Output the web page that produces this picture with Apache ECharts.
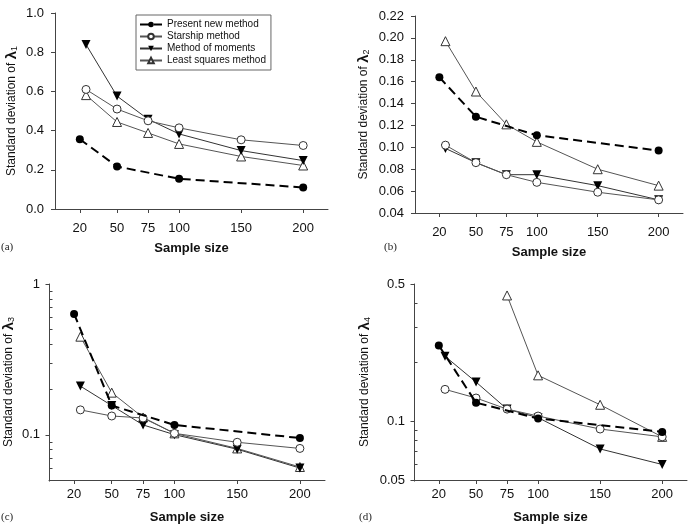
<!DOCTYPE html>
<html>
<head>
<meta charset="utf-8">
<script src="https://cdn.jsdelivr.net/npm/echarts@6/dist/echarts.min.js"></script>
<style>
  html, body { margin: 0; padding: 0; background: #fff; }
  #chart { width: 688px; height: 525px; }
</style>
</head>
<body>
<div id="chart"></div>
<script>
var chart = echarts.init(document.getElementById('chart'));

// sample sizes
var xPresent = [20, 50, 100, 200];
var xOthers = [25, 50, 75, 100, 150, 200];
var xLeastD = [75, 100, 150, 200];
var xTicks = [20, 50, 75, 100, 150, 200];

var seriesNames = ['Present new method', 'Starship method', 'Method of moments', 'Least squares method'];

// (a) lambda 1
var presentA = [0.356, 0.217, 0.154, 0.110];
var starshipA = [0.610, 0.510, 0.450, 0.414, 0.353, 0.324];
var momentsA = [0.839, 0.576, 0.458, 0.383, 0.298, 0.247];
var leastA = [0.581, 0.444, 0.388, 0.332, 0.268, 0.222];

// (b) lambda 2
var presentB = [0.164, 0.128, 0.111, 0.097];
var starshipB = [0.102, 0.086, 0.075, 0.068, 0.059, 0.052];
var momentsB = [0.099, 0.086, 0.075, 0.075, 0.065, 0.052];
var leastB = [0.197, 0.151, 0.121, 0.105, 0.080, 0.065];

// (c) lambda 3 (log)
var presentC = [0.633, 0.156, 0.116, 0.095];
var starshipC = [0.146, 0.133, 0.129, 0.102, 0.089, 0.081];
var momentsC = [0.210, 0.156, 0.116, 0.100, 0.080, 0.060];
var leastC = [0.447, 0.190, 0.130, 0.102, 0.081, 0.061];

// (d) lambda 4 (log)
var presentD = [0.243, 0.124, 0.103, 0.088];
var starshipD = [0.145, 0.131, 0.115, 0.106, 0.091, 0.083];
var momentsD = [0.214, 0.158, 0.115, 0.104, 0.072, 0.060];
var leastD = [0.437, 0.171, 0.121, 0.083];

var majorC = [0.1, 1];
var minorC = [0.06, 0.07, 0.08, 0.09, 0.2, 0.3, 0.4, 0.5, 0.6, 0.7, 0.8, 0.9];
var majorD = [0.05, 0.1, 0.5];
var minorD = [0.06, 0.07, 0.08, 0.09, 0.2, 0.3, 0.4];

var font = "'Liberation Sans', Arial, sans-serif";
var axisColor = '#444';

function pairs(xs, ys) {
    return xs.map(function (x, i) { return [x, ys[i]]; });
}

var styles = [
    { symbol: 'circle', symbolSize: 8, symbolRotate: 0,
      itemStyle: { color: '#000' },
      lineStyle: { color: '#000', width: 2, type: [9, 5] } },
    { symbol: 'circle', symbolSize: 8, symbolRotate: 0,
      itemStyle: { color: '#fff', borderColor: '#333', borderWidth: 1 },
      lineStyle: { color: '#555', width: 1 } },
    { symbol: 'triangle', symbolSize: 9, symbolRotate: 180,
      itemStyle: { color: '#000' },
      lineStyle: { color: '#333', width: 1 } },
    { symbol: 'triangle', symbolSize: 9, symbolRotate: 0,
      itemStyle: { color: '#fff', borderColor: '#333', borderWidth: 1 },
      lineStyle: { color: '#555', width: 1 } }
];

function mk(k, xs, ys, idx) {
    var s = styles[k];
    return {
        type: 'line',
        name: seriesNames[k],
        xAxisIndex: idx,
        yAxisIndex: idx,
        data: pairs(xs, ys),
        symbol: s.symbol,
        symbolSize: s.symbolSize,
        symbolRotate: s.symbolRotate,
        itemStyle: s.itemStyle,
        lineStyle: s.lineStyle,
        z: 5 - k
    };
}

function xAxisOf(idx, margin, gap) {
    return {
        type: 'value',
        gridIndex: idx,
        min: 0,
        max: 220,
        name: 'Sample size',
        nameLocation: 'middle',
        nameGap: gap,
        nameTextStyle: { fontFamily: font, fontSize: 13, fontWeight: 'bold', color: '#111' },
        splitLine: { show: false },
        axisLine: { onZero: false, lineStyle: { color: axisColor, width: 1 } },
        axisTick: { length: 4, customValues: xTicks, lineStyle: { color: axisColor } },
        axisLabel: { customValues: xTicks, fontFamily: font, fontSize: 13, color: '#111', margin: margin }
    };
}

function yName(sub) {
    return '{a|Standard deviation of }{l|λ}{s|' + sub + '}';
}

var nameRich = {
    a: { fontFamily: font, fontSize: 12, color: '#111' },
    l: { fontFamily: font, fontSize: 15, color: '#111', fontWeight: 'bold' },
    s: { fontFamily: font, fontSize: 9, color: '#111', verticalAlign: 'bottom', padding: [6, 0, 0, 0] }
};

function fmt(v) {
    return String(parseFloat(Number(v).toPrecision(3)));
}

// only the listed major values get a label
function logLabels(list) {
    return function (v) {
        for (var i = 0; i < list.length; i++) {
            if (Math.abs(v - list[i]) < list[i] * 1e-3) { return fmt(list[i]); }
        }
        return '';
    };
}

function logAxis(grid, min, max, sub, gap, major) {
    return {
        type: 'log', logBase: 10, gridIndex: grid, min: min, max: max,
        name: yName(sub), nameLocation: 'middle', nameRotate: 90, nameGap: gap,
        nameTextStyle: { rich: nameRich },
        splitLine: { show: false },
        axisLine: { show: true, onZero: false, lineStyle: { color: axisColor } },
        axisTick: { show: false },
        axisLabel: { fontFamily: font, fontSize: 13, color: '#111', margin: 9,
            formatter: logLabels(major) }
    };
}

var yAxes = [
    {
        type: 'value', gridIndex: 0, min: 0, max: 1, interval: 0.2,
        name: yName('1'), nameLocation: 'middle', nameRotate: 90, nameGap: 36,
        nameTextStyle: { rich: nameRich },
        splitLine: { show: false },
        axisLine: { show: true, onZero: false, lineStyle: { color: axisColor } },
        axisTick: { show: true, length: 4, lineStyle: { color: axisColor } },
        axisLabel: { fontFamily: font, fontSize: 13, color: '#111', margin: 11,
            formatter: function (v) { return v.toFixed(1); } }
    },
    {
        type: 'value', gridIndex: 1, min: 0.04, max: 0.22, interval: 0.02,
        name: yName('2'), nameLocation: 'middle', nameRotate: 90, nameGap: 44,
        nameTextStyle: { rich: nameRich },
        splitLine: { show: false },
        axisLine: { show: true, onZero: false, lineStyle: { color: axisColor } },
        axisTick: { show: true, length: 4, lineStyle: { color: axisColor } },
        axisLabel: { fontFamily: font, fontSize: 13, color: '#111', margin: 11,
            formatter: function (v) { return v.toFixed(2); } }
    },
    logAxis(2, 0.05, 1, '3', 33, majorC),
    logAxis(3, 0.05, 0.5, '4', 42, majorD)
];

var series = [
    mk(0, xPresent, presentA, 0), mk(1, xOthers, starshipA, 0), mk(2, xOthers, momentsA, 0), mk(3, xOthers, leastA, 0),
    mk(0, xPresent, presentB, 1), mk(1, xOthers, starshipB, 1), mk(2, xOthers, momentsB, 1), mk(3, xOthers, leastB, 1),
    mk(0, xPresent, presentC, 2), mk(1, xOthers, starshipC, 2), mk(2, xOthers, momentsC, 2), mk(3, xOthers, leastC, 2),
    mk(0, xPresent, presentD, 3), mk(1, xOthers, starshipD, 3), mk(2, xOthers, momentsD, 3), mk(3, xLeastD, leastD, 3)
];

var panelLabel = { fontFamily: "'Liberation Serif', 'Times New Roman', serif", fontSize: 11, fill: '#222' };

var panelTexts = [
    { type: 'text', left: 1, top: 242, style: Object.assign({ text: '(a)' }, panelLabel) },
    { type: 'text', left: 384, top: 242, style: Object.assign({ text: '(b)' }, panelLabel) },
    { type: 'text', left: 1, top: 512, style: Object.assign({ text: '(c)' }, panelLabel) },
    { type: 'text', left: 359, top: 512, style: Object.assign({ text: '(d)' }, panelLabel) }
];

var grids = [
    { left: 55, top: 13, width: 273, height: 196 },
    { left: 415, top: 16, width: 268, height: 197 },
    { left: 49, top: 284, width: 276, height: 197 },
    { left: 414, top: 284, width: 273, height: 197 }
];

var option = {
    animation: false,
    backgroundColor: '#fff',
    textStyle: { fontFamily: font },
    grid: grids,
    legend: {
        orient: 'vertical',
        left: 136,
        top: 15,
        data: seriesNames,
        itemWidth: 22,
        itemHeight: 7,
        itemGap: 1,
        padding: [4, 5, 4, 3],
        borderColor: '#666',
        borderWidth: 1,
        textStyle: { fontFamily: font, fontSize: 10, lineHeight: 11, color: '#111' }
    },
    xAxis: [xAxisOf(0, 13, 33), xAxisOf(1, 13, 33), xAxisOf(2, 8, 31), xAxisOf(3, 8, 31)],
    yAxis: yAxes,
    series: series,
    graphic: panelTexts
};

chart.setOption(option);

// pixel row of a value on a log panel; the chart's scale first,
// the grid box on a log10 scale if that conversion is not available
function yPix(idx, v, min, max) {
    var p = NaN;
    try {
        p = chart.convertToPixel({ yAxisIndex: idx }, v);
    } catch (e) {
        p = NaN;
    }
    if (typeof p === 'number' && isFinite(p)) { return p; }
    var g = grids[idx];
    return g.top + g.height * (Math.log(max) - Math.log(v)) / (Math.log(max) - Math.log(min));
}

// log panels: axis line, major ticks (outward) and minor ticks (inward)
function logAxisMarks(idx, min, max, major, minor) {
    var g = grids[idx];
    var lineStyle = { stroke: axisColor, lineWidth: 1 };
    var x = g.left + 0.5;
    var els = [{ type: 'line', z: 50, shape: { x1: x, y1: g.top + g.height + 0.5, x2: x, y2: g.top }, style: lineStyle }];
    major.forEach(function (v) {
        var y = Math.round(yPix(idx, v, min, max)) + 0.5;
        els.push({ type: 'line', z: 50, shape: { x1: x - 4, y1: y, x2: x, y2: y }, style: lineStyle });
    });
    minor.forEach(function (v) {
        var y = Math.round(yPix(idx, v, min, max)) + 0.5;
        els.push({ type: 'line', z: 50, shape: { x1: x, y1: y, x2: x + 3, y2: y }, style: lineStyle });
    });
    return els;
}

chart.setOption({
    graphic: panelTexts
        .concat(logAxisMarks(2, 0.05, 1, majorC, minorC))
        .concat(logAxisMarks(3, 0.05, 0.5, majorD, minorD))
});
</script>
</body>
</html>
